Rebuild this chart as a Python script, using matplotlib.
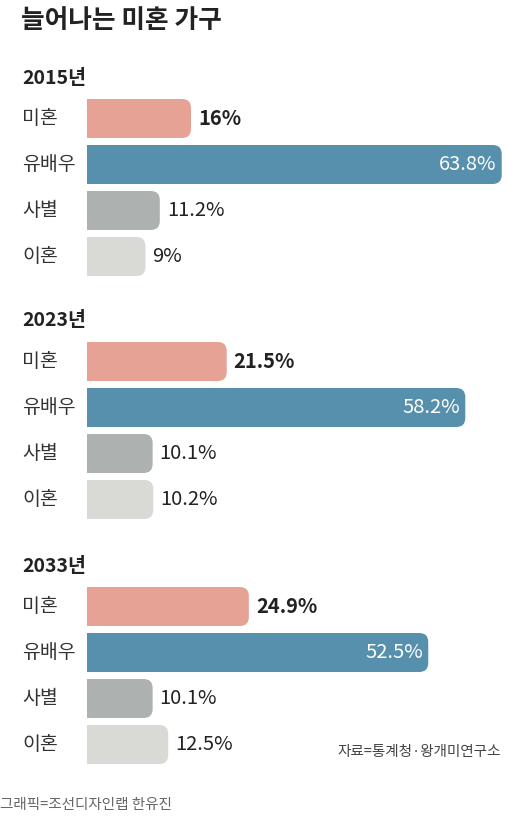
import matplotlib.pyplot as plt
from matplotlib.patches import FancyBboxPatch, Rectangle

plt.rcParams['font.family'] = ['Noto Sans CJK KR', 'DejaVu Sans']

# data
years = ['2015년', '2023년', '2033년']
categories = ['미혼', '유배우', '사별', '이혼']
values_2015 = [16, 63.8, 11.2, 9]
values_2023 = [21.5, 58.2, 10.1, 10.2]
values_2033 = [24.9, 52.5, 10.1, 12.5]
labels_2015 = ['16%', '63.8%', '11.2%', '9%']
labels_2023 = ['21.5%', '58.2%', '10.1%', '10.2%']
labels_2033 = ['24.9%', '52.5%', '10.1%', '12.5%']
groups = [(values_2015, labels_2015), (values_2023, labels_2023), (values_2033, labels_2033)]

colors = ['#E5A295', '#5790AC', '#ADB1AF', '#D9DAD6']

W, H = 527, 816
px_per_pct = 6.5   # horizontal scale
x0_px = 87         # bar left edge

fig = plt.figure(figsize=(W / 100, H / 100), dpi=100)
ax = fig.add_axes([0, 0, 1, 1])
ax.set_xlim(-x0_px / px_per_pct, (W - x0_px) / px_per_pct)
ax.set_ylim(H, 0)
ax.axis('off')

def px(xp):
    # pixel x -> data x
    return (xp - x0_px) / px_per_pct

bar_h = 39
r_px = 9
r = r_px / px_per_pct

ax.text(px(21), 21, '늘어나는 미혼 가구', fontsize=18.5, fontweight='bold',
        va='center', ha='left', color='#222222')

group_top = [99, 342, 587]
step = 46
for g, (vals, labs) in enumerate(groups):
    top = group_top[g]
    ax.text(px(22), top - 21, years[g], fontsize=14, fontweight='bold',
            va='center', ha='left', color='#222222')
    for i, (cat, v, lab) in enumerate(zip(categories, vals, labs)):
        y = top + i * step
        yc = y + bar_h / 2
        box = FancyBboxPatch((0, y), v, bar_h,
                             boxstyle=f'round,pad=0,rounding_size={r}',
                             mutation_aspect=px_per_pct,
                             fc=colors[i], ec='none')
        ax.add_patch(box)
        ax.add_patch(Rectangle((0, y), v / 2, bar_h, fc=colors[i], ec='none'))
        ax.text(px(22), yc, cat, fontsize=14, va='center', ha='left', color='#333333')
        if i == 1:
            ax.text(v - 5 / px_per_pct, yc, lab, fontsize=14.5, va='center',
                    ha='right', color='white')
        else:
            ax.text(v + 7 / px_per_pct, yc, lab, fontsize=14.5, va='center', ha='left',
                    color='#222222', fontweight='bold' if i == 0 else 'normal')

ax.text(px(501), 752, '자료=통계청·왕개미연구소', fontsize=10.5, va='center',
        ha='right', color='#444444')
ax.text(px(0), 805, '그래픽=조선디자인랩 한유진', fontsize=10.5, va='center',
        ha='left', color='#666666')

fig.savefig('out.png', dpi=100)
